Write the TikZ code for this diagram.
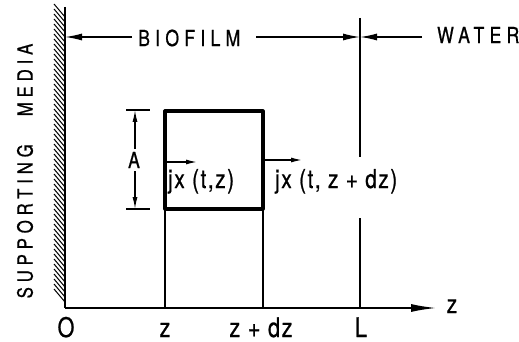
\documentclass[tikz,border=0pt]{standalone}
\usepackage{fontspec}
\setmainfont{TeX Gyre Heros}
\newfontfamily\capsfont[FakeStretch=0.8, FakeBold=0.8, LetterSpace=24]{TeX Gyre Heros}
\newfontfamily\sidefont[FakeStretch=0.8, FakeBold=0.8, LetterSpace=23]{TeX Gyre Heros}
\newfontfamily\mathlabfont[FakeStretch=0.8, FakeBold=0.8, LetterSpace=6]{TeX Gyre Heros}
\usetikzlibrary{arrows.meta}
\tikzset{
  caplab/.style={inner sep=0pt, font=\capsfont\fontsize{22}{24}\selectfont},
  sidelab/.style={inner sep=0pt, font=\sidefont\fontsize{21}{24}\selectfont},
  varlab/.style={inner sep=0pt, font=\mathlabfont\fontsize{26}{28}\selectfont},
  botlab/.style={inner sep=0pt, font=\mathlabfont\fontsize{27}{28}\selectfont},
  thin line/.style={line width=1.3pt},
  bigtip/.style={-{Latex[length=17pt,width=7pt]}},
  smalltip/.style={-{Latex[length=12pt,width=5pt]}},
}
\begin{document}
\begin{tikzpicture}[x=1pt,y=-1pt]
\useasboundingbox[fill=white] (0,0) rectangle (519,342);
% key points
\coordinate (wtop) at (65,7);
\coordinate (O) at (65,308);
\coordinate (zend) at (437,308);
\coordinate (Ltop) at (360,18);
\coordinate (Lgap1) at (360,157);
\coordinate (Lgap2) at (360,218);
\coordinate (Lbot) at (360,308);
\coordinate (zbot) at (165,308);
\coordinate (zbtop) at (165,210);
\coordinate (dzbot) at (263,308);
\coordinate (dzbtop) at (263,210);
% hatching and wall
\foreach \y in {4,9,...,292} {
  \draw[line width=1pt] (54,\y) -- (65,\y+13);
}
\draw[line width=1.8pt] (wtop) -- (O);
% axis
\draw[line width=2pt, -{Latex[length=26pt,width=8pt]}] (O) -- (zend);
% verticals
\draw[thin line] (Ltop) -- (Lgap1);
\draw[thin line] (Lgap2) -- (Lbot);
\draw[thin line] (zbtop) -- (zbot);
\draw[thin line] (dzbtop) -- (dzbot);
% box
\draw[line width=3.2pt, line join=round] (165,111) rectangle (263,209);
% top labels and arrows
\node[caplab, anchor=west] (bio) at (138,38) {BIOFILM};
\node[caplab, anchor=west] (water) at (437,35) {WATER};
\coordinate (wmid) at (65,37);
\coordinate (Lmid) at (360,37);
\coordinate (bl) at (132,37);
\coordinate (br) at (256,37);
\coordinate (wl) at (422,37);
\draw[thin line, bigtip] (bl) -- (wmid);
\draw[thin line, bigtip] (br) -- (Lmid);
\draw[thin line, bigtip] (wl) -- (Lmid);
% supporting media
\node[sidelab, rotate=90] (sm) at (25,171) {SUPPORTING\hspace{28pt}MEDIA};
% A dimension
\coordinate (At) at (135,110);
\coordinate (Ab) at (135,209);
\coordinate (Atl) at (126,110);
\coordinate (Atr) at (150,110);
\coordinate (Abl) at (126,209);
\coordinate (Abr) at (150,209);
\draw[thin line] (Atl) -- (Atr);
\draw[thin line] (Abl) -- (Abr);
\node[caplab] (A) at (134,160) {A};
\coordinate (Aup) at (135,149);
\coordinate (Adn) at (135,171);
\draw[thin line, smalltip] (Aup) -- (At);
\draw[thin line, smalltip] (Adn) -- (Ab);
% fluxes
\coordinate (j1s) at (165,162);
\coordinate (j1e) at (197,162);
\draw[thin line, -{Latex[length=11pt,width=5pt]}] (j1s) -- (j1e);
\node[varlab, anchor=base west] (j1) at (168,188) {jx (t,z)};
\coordinate (j2s) at (263,160);
\coordinate (j2e) at (302,160);
\draw[thin line, -{Latex[length=11pt,width=5pt]}] (j2s) -- (j2e);
\node[varlab, anchor=base west] (j2) at (275,188) {jx (t, z + dz)};
% bottom labels
\node[botlab, anchor=base] (l0) at (66,337) {O};
\node[botlab, anchor=base] (lz) at (165,337) {z};
\node[botlab, anchor=base] (ldz) at (261,337) {z + dz};
\node[botlab, anchor=base] (lL) at (361,337) {L};
\node[varlab, anchor=base] (lzax) at (452,313) {z};
\end{tikzpicture}
\end{document}
